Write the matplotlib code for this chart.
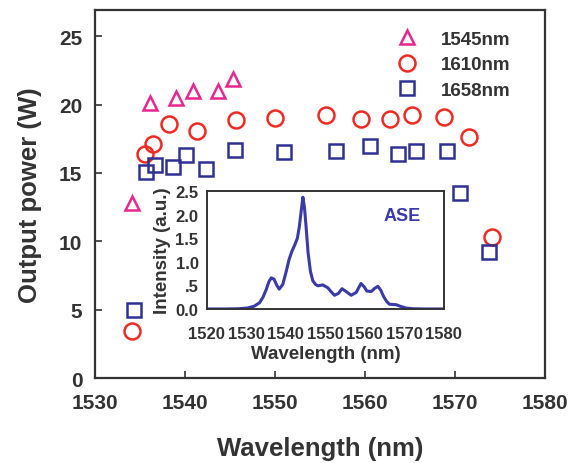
import numpy as np
import matplotlib
matplotlib.use("Agg")
import matplotlib.pyplot as plt

plt.rcParams["font.family"] = ["Liberation Sans", "DejaVu Sans"]
plt.rcParams["font.weight"] = "bold"

# -----------------------------
# Data
# -----------------------------
wl_1545 = [1534.1, 1536.1, 1539.0, 1540.9, 1543.7, 1545.4]
p_1545 = [12.8, 20.1, 20.5, 21.0, 21.0, 21.9]

wl_1610 = [1534.1, 1535.6, 1536.5, 1538.2, 1541.4, 1545.7, 1550.0, 1555.7,
           1559.6, 1562.8, 1565.2, 1568.8, 1571.5, 1574.1]
p_1610 = [3.45, 16.35, 17.1, 18.6, 18.1, 18.85, 19.0, 19.2,
          18.95, 18.95, 19.2, 19.1, 17.6, 10.3]

wl_1658 = [1534.4, 1535.7, 1536.7, 1538.7, 1540.1, 1542.3, 1545.6, 1551.0,
           1556.8, 1560.6, 1563.7, 1565.7, 1569.1, 1570.6, 1573.8]
p_1658 = [5.0, 15.1, 15.6, 15.4, 16.3, 15.25, 16.7, 16.5,
          16.6, 16.95, 16.4, 16.6, 16.6, 13.55, 9.2]

ase_wl = [1520.0, 1525.0, 1528.0, 1530.3, 1532.0, 1533.3, 1534.2, 1535.0, 1535.7,
          1536.3, 1537.0, 1537.7, 1538.3, 1539.2, 1540.0, 1540.8, 1541.5,
          1542.2, 1542.9, 1543.4, 1543.9, 1544.3, 1544.7, 1545.1, 1545.6,
          1546.2, 1546.8, 1547.5, 1548.1, 1549.3, 1550.6, 1551.5, 1552.3,
          1553.3, 1554.2, 1555.4, 1556.5, 1557.8, 1559.0, 1559.8, 1560.5,
          1561.6, 1562.5, 1563.3, 1564.0, 1564.7, 1565.5, 1566.2, 1567.9,
          1569.2, 1570.4, 1572.0, 1575.0, 1580.0]
ase_int = [0.0, 0.0, 0.005, 0.02, 0.06, 0.13, 0.25, 0.41, 0.58,
           0.66, 0.63, 0.50, 0.42, 0.52, 0.77, 1.05, 1.22,
           1.35, 1.5, 1.75, 2.1, 2.37, 2.15, 1.75, 1.2,
           0.8, 0.6, 0.52, 0.49, 0.51, 0.45, 0.36, 0.29,
           0.33, 0.43, 0.36, 0.29, 0.35, 0.54, 0.47, 0.38,
           0.37, 0.44, 0.48, 0.40, 0.27, 0.16, 0.1, 0.09,
           0.05, 0.02, 0.005, 0.0, 0.0]

# -----------------------------
# Main plot
# -----------------------------
fig = plt.figure(figsize=(5.78, 4.64), dpi=100)
ax = fig.add_axes([0.164, 0.183, 0.779, 0.793])

ax.plot(wl_1545, p_1545, "^", ms=10.5, mfc="none", mec="#e6278f", mew=1.8,
        label="1545nm", linestyle="none")
ax.plot(wl_1610, p_1610, "o", ms=11.5, mfc="none", mec="#ee2a24", mew=1.8,
        label="1610nm", linestyle="none")
ax.plot(wl_1658, p_1658, "s", ms=9.5, mfc="none", mec="#2e3192", mew=1.8,
        label="1658nm", linestyle="none")

ax.set_xlim(1530, 1580)
ax.set_ylim(0, 26.9)
ax.set_xticks(np.arange(1530, 1581, 10))
ax.set_yticks(np.arange(0, 26, 5))
ax.tick_params(direction="in", length=5, width=1.2, labelsize=15,
               colors="#333333")
ax.tick_params(axis="x", pad=11)
ax.tick_params(axis="y", pad=9)
for sp in ax.spines.values():
    sp.set_linewidth(1.6)
    sp.set_color("#333333")
ax.set_xlabel("Wavelength (nm)", fontsize=18.5, fontweight="bold",
              color="#333333")
ax.set_ylabel("Output power (W)", fontsize=18.5, fontweight="bold",
              color="#333333")
ax.xaxis.set_label_coords(0.5, -0.158)
ax.yaxis.set_label_coords(-0.118, 0.5)

leg = ax.legend(loc="upper right", frameon=False, fontsize=13.5,
                handletextpad=0.8, borderaxespad=0.5, labelspacing=0.45,
                bbox_to_anchor=(0.96, 0.99))
for t in leg.get_texts():
    t.set_color("#333333")

# -----------------------------
# Inset: ASE spectrum
# -----------------------------
ins = fig.add_axes([0.358, 0.332, 0.410, 0.254])
ins.plot(ase_wl, ase_int, color="#3a3aa8", lw=2.2)
ins.set_xlim(1520, 1580)
ins.set_ylim(0, 2.5)
ins.set_xticks(np.arange(1520, 1581, 10))
ins.set_yticks([0, 0.5, 1.0, 1.5, 2.0, 2.5])
ins.set_yticklabels(["0.0", ".5", "1.0", "1.5", "2.0", "2.5"])
ins.tick_params(length=0, labelsize=12, colors="#333333")
ins.tick_params(axis="x", pad=12)
ins.tick_params(axis="y", pad=6)
for sp in ins.spines.values():
    sp.set_linewidth(1.4)
    sp.set_color("#333333")
ins.set_xlabel("Wavelength (nm)", fontsize=13.5, fontweight="bold",
               color="#333333", labelpad=3)
ins.set_ylabel("Intensity (a.u.)", fontsize=13.5, fontweight="bold",
               color="#333333", labelpad=3)
ins.text(1569.4, 1.98, "ASE", color="#3a3aa8", fontsize=13,
         fontweight="bold", ha="center", va="center")

fig.savefig("out.png", dpi=100)
